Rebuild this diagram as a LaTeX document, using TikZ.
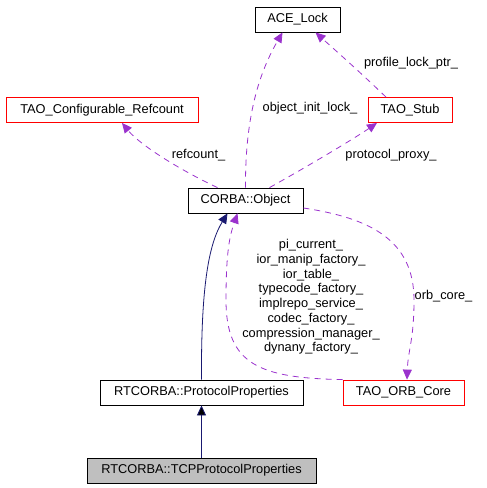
\documentclass[tikz,border=0pt]{standalone}
\usepackage{fontspec}
\setmainfont{Liberation Sans}
\usetikzlibrary{arrows.meta}
\definecolor{inhblue}{HTML}{191970}
\definecolor{usepurple}{HTML}{9A32CD}
\begin{document}
\begin{tikzpicture}[x=1pt,y=-1pt]
			\tikzstyle{CL}=[rectangle,draw=black,line width=0.8pt,inner sep=0pt,minimum height=25pt,font=\fontsize{12.8}{14.7}\selectfont]
			\tikzstyle{LB}=[inner sep=0pt,font=\fontsize{12.8}{14.7}\selectfont,align=center]
			\tikzstyle{inh}=[draw=inhblue,line width=0.8pt,-{Triangle[length=10pt,width=9pt]}]
			\tikzstyle{use}=[draw=usepurple,line width=0.8pt,dash pattern=on 6pt off 5pt,-{Triangle[length=10pt,width=9pt]}]
			\useasboundingbox (0,0) rectangle (487,488);
			\begin{scope}
			\node[CL,minimum width=85pt] (ace) at (297.5,19.5) {ACE\_Lock};
			\node[CL,draw=red,minimum width=192pt] (refc) at (102,110) {TAO\_Configurable\_Refcount};
			\node[CL,draw=red,minimum width=84pt] (stub) at (410,110) {TAO\_Stub};
			\node[CL,minimum width=115pt] (corba) at (245.5,200.5) {CORBA::Object};
			\node[CL,minimum width=203pt] (pp) at (201.5,392.5) {RTCORBA::ProtocolProperties};
			\node[CL,draw=red,minimum width=121pt] (orb) at (403.5,392.5) {TAO\_ORB\_Core};
			\node[CL,fill=black!25,minimum width=229pt] (tcp) at (201.5,470.5) {RTCORBA::TCPProtocolProperties};
			\end{scope}
			
			% labels
			\node[LB] (l-lock) at (310,108) {object\_init\_lock\_};
			\node[LB] (l-prof) at (411,63) {profile\_lock\_ptr\_};
			\node[LB] (l-refc) at (198.5,155) {refcount\_};
			\node[LB] (l-prox) at (391,155) {protocol\_proxy\_};
			\node[LB] (l-orb) at (443.5,296) {orb\_core\_};
			\node[LB] (l-many) at (311,297) {pi\_current\_\\ior\_manip\_factory\_\\ior\_table\_\\typecode\_factory\_\\implrepo\_service\_\\codec\_factory\_\\compression\_manager\_\\dynany\_factory\_};
			
			\path[inh] (tcp) edge (pp);
			\draw[inh] (pp.north) .. controls (201,290) and (208,245) .. ([xshift=-18pt]corba.south);
			\draw[use] (corba.north) .. controls (245,110) and (262,68) .. ([xshift=-15pt]ace.south);
			\draw[use] ([xshift=-24pt]stub.north) .. controls (360,72) and (335,50) .. ([xshift=18pt]ace.south);
			\draw[use] ([xshift=-28pt]corba.north) .. controls (180,170) and (140,145) .. ([xshift=20pt]refc.south);
			\draw[use] ([xshift=24pt]corba.north) .. controls (310,165) and (355,138) .. ([xshift=-33pt]stub.south);
			\draw[use] ([yshift=-7.5pt]corba.east) .. controls (370,218) and (414,240) .. (414,300) .. controls (414,340) and (408,350) .. ([xshift=3.5pt]orb.north);
			\draw[use] (orb.north west) .. controls (260,378) and (226,365) .. (226,300) .. controls (226,250) and (230,235) .. ([xshift=-8pt]corba.south);
		\end{tikzpicture}
\end{document}
